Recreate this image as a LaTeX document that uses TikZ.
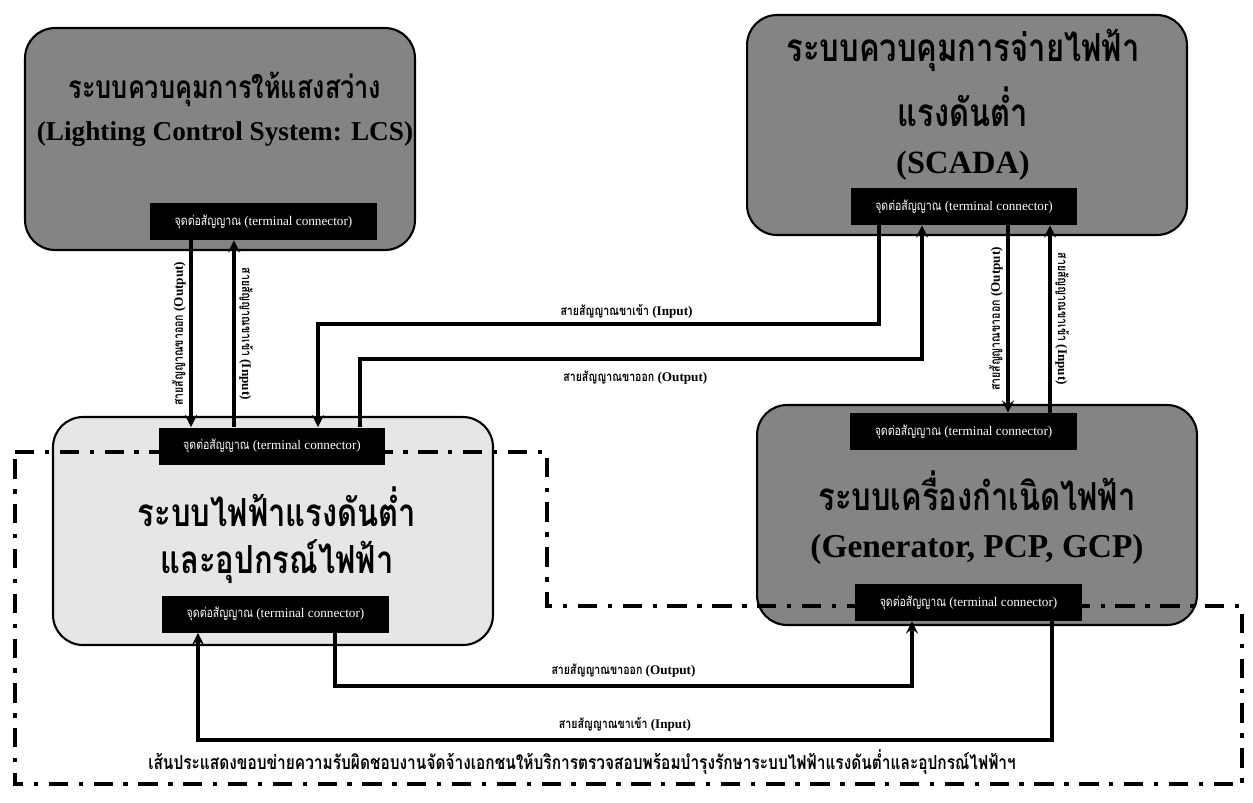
\documentclass[tikz,border=0pt]{standalone}
\usepackage{fontspec}
\setmainfont{Liberation Serif}
\newfontfamily\thaifont[Script=Thai,FakeStretch=0.8]{Loma}
\definecolor{boxgray}{RGB}{132,132,132}
\definecolor{lvgray}{RGB}{230,230,230}
\newcommand{\termtext}{{\thaifont จุดต่อสัญญาณ} (terminal connector)}
\newcommand{\outtext}{{\thaifont สายสัญญาณขาออก} (Output)}
\newcommand{\intext}{{\thaifont สายสัญญาณขาเข้า} (Input)}

\begin{document}
\begin{tikzpicture}[x=0.02cm,y=-0.02cm,>=stealth,
  sysbox/.style={draw=black,line width=1.2pt,rounded corners=0.6cm,fill=boxgray},
  term/.style={fill=black,text=white,minimum width=4.54cm,minimum height=0.74cm,inner sep=0pt,font=\fontsize{7.5}{8}\selectfont},
  sig/.style={line width=2pt},
  lbl/.style={font=\fontsize{7.5}{8}\selectfont\bfseries,inner sep=2pt},
  thtitle/.style={font=\fontsize{22}{24}\selectfont\bfseries\thaifont},
  entitle/.style={font=\fontsize{18.5}{20}\selectfont\bfseries},
  border/.style={line width=2.2pt,dash pattern=on 11pt off 6pt on 2.5pt off 6pt}]
\useasboundingbox (0,0) rectangle (1253,802);

% system boxes
\node[sysbox,minimum width=7.8cm,minimum height=4.44cm] (lcs) at (220,139) {};
\node[sysbox,minimum width=8.8cm,minimum height=4.4cm] (scada) at (967,125) {};
\node[sysbox,fill=lvgray,minimum width=8.8cm,minimum height=4.56cm] (lv) at (273,531) {};
\node[sysbox,minimum width=8.8cm,minimum height=4.4cm] (gen) at (977,515) {};

% titles
\node[thtitle,font=\fontsize{18}{20}\selectfont\bfseries\thaifont] (lcsA) at (225,89) {ระบบควบคุมการให้แสงสว่าง};
\node[entitle,font=\fontsize{15.5}{18}\selectfont\bfseries] (lcsB) at (225,134) {(Lighting Control System: LCS)};
\node[thtitle] (scA) at (963,50) {ระบบควบคุมการจ่ายไฟฟ้า};
\node[thtitle] (scB) at (963,107) {แรงดันต่ำ};
\node[entitle] (scC) at (963,166) {(SCADA)};
\node[thtitle] (lvA) at (277,507) {ระบบไฟฟ้าแรงดันต่ำ};
\node[thtitle] (lvB) at (277,562) {และอุปกรณ์ไฟฟ้า};
\node[thtitle] (genA) at (977,491) {ระบบเครื่องกำเนิดไฟฟ้า};
\node[entitle,font=\fontsize{19}{22}\selectfont\bfseries] (genB) at (977,549) {(Generator, PCP, GCP)};

% boundary of the contract
\draw[border] (15,452) -- (547,452) -- (547,606) -- (1242,606) -- (1242,784) -- (15,784) -- cycle;

% terminals
\node[term] (lcsT) at (263.5,221.5) {\termtext};
\node[term] (scT) at (964,206.5) {\termtext};
\node[term] (lvT) at (272,446) {\termtext};
\node[term] (lvB) at (275.5,614) {\termtext};
\node[term] (genT) at (963.5,431.5) {\termtext};
\node[term] (genBt) at (968.5,602.5) {\termtext};

% LCS <-> LV
\draw[sig,->] (lcsT.south -| 191,0) -- node[lbl,midway,rotate=90,anchor=south] {\outtext} (lvT.north -| 191,0);
\draw[sig,->] (lvT.north -| 234,0) -- node[lbl,midway,rotate=-90,anchor=south] {\intext} (lcsT.south -| 234,0);

% SCADA <-> Gen
\draw[sig,->] (scT.south -| 1008,0) -- node[lbl,midway,rotate=90,anchor=south] {\outtext} (genT.north -| 1008,0);
\draw[sig,->] (genT.north -| 1050,0) -- node[lbl,midway,rotate=-90,anchor=south] {\intext} (scT.south -| 1050,0);

% SCADA <-> LV
\draw[sig,->] (scT.south -| 879,0) -- (879,324) -- node[lbl,pos=0.45,above] {\intext} (318,324) -- (lvT.north -| 318,0);
\draw[sig,->] (lvT.north -| 360,0) -- (360,359) -- node[lbl,pos=0.49,below=4pt] {\outtext} (922,359) -- (scT.south -| 922,0);

% LV <-> Gen
\draw[sig,->] (lvB.south -| 335,0) -- (335,686) -- node[lbl,pos=0.5,above=2pt] {\outtext} (912,686) -- (genBt.south -| 912,0);
\draw[sig,->] (genBt.south -| 1052,0) -- (1052,740) -- node[lbl,pos=0.5,above=2pt] {\intext} (198,740) -- (lvB.south -| 198,0);

\node[font=\fontsize{11}{12}\selectfont\bfseries\thaifont] (note) at (582,762) {เส้นประแสดงขอบข่ายความรับผิดชอบงานจัดจ้างเอกชนให้บริการตรวจสอบพร้อมบำรุงรักษาระบบไฟฟ้าแรงดันต่ำและอุปกรณ์ไฟฟ้าฯ};
\end{tikzpicture}
\end{document}
